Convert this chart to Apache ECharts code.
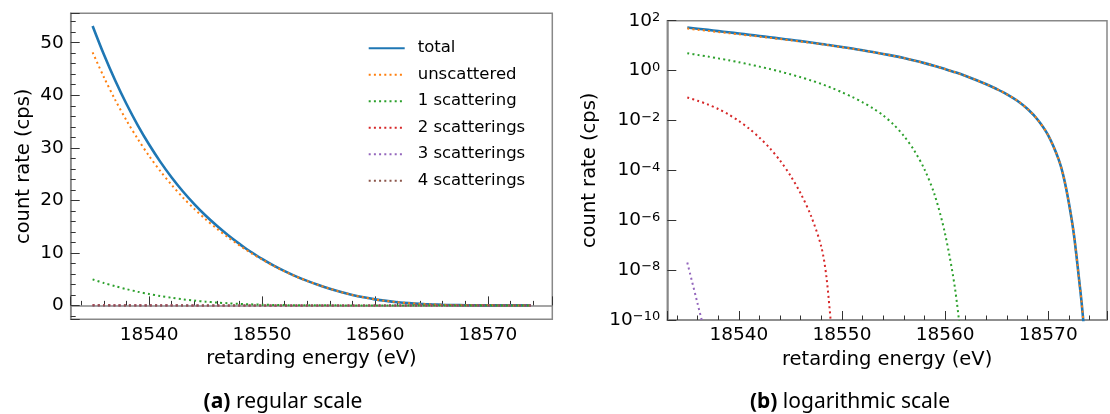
<!DOCTYPE html>
<html><head><meta charset="utf-8">
<script src="https://cdn.jsdelivr.net/npm/echarts@6/dist/echarts.min.js"></script>
<style>html,body{margin:0;padding:0;background:#fff}#c{width:1110px;height:414px}</style>
</head><body><div id="c"></div>
<script>
// ---- data ----
const energy = [18535,18536,18537,18538,18539,18540,18541,18542,18543,18544,
  18545,18546,18547,18548,18548.5,18549,18550,18551,18552,18553,18554,
  18555,18556,18557,18558,18559,18560,18561,18562,18563,18564,
  18565,18566,18567,18568,18569,18570,18571,
  18571.5,18572,18572.5,18573,18573.25,18573.5,18573.8];
const total = [53.2,47.75,42.81,38.33,34.28,30.62,27.32,24.35,21.68,19.28,
  17.10,15.14,13.34,11.70,10.93,10.21,8.85,7.62,6.52,5.53,4.66,
  3.88,3.17,2.535,1.991,1.531,1.148,0.851,0.610,0.422,0.282,
  0.182,0.1122,0.0617,0.0288,0.01047,0.00251,2.82e-4,
  5.37e-5,5.0e-6,2.51e-7,3.98e-9,4.47e-10,3.16e-11,0];
const unscattered = [48.16,43.43,39.12,35.21,31.67,28.45,25.54,22.91,20.52,18.37,
  16.39,14.60,12.94,11.41,10.69,10.01,8.715,7.533,6.466,5.499,4.644,
  3.873,3.168,2.534,1.991,1.531,1.148,0.851,0.610,0.422,0.282,
  0.182,0.1122,0.0617,0.0288,0.01047,0.00251,2.82e-4,
  5.37e-5,5.0e-6,2.51e-7,3.98e-9,4.47e-10,3.16e-11,0];
const scat1 = [4.955,4.266,3.648,3.090,2.594,2.158,1.774,1.442,1.156,0.912,
  0.708,0.540,0.403,0.292,0.2427,0.202,0.135,0.0871,0.0537,0.0309,0.01585,
  0.00692,0.0024,6.31e-4,1.10e-4,1.0e-5,2.82e-7,1.41e-9,3.2e-13,0,0,
  0,0,0,0,0,0,0,
  0,0,0,0,0,0,0];
const scat2 = [0.0832,0.0617,0.0437,0.0288,0.0174,0.00955,0.00468,0.00204,7.76e-4,2.45e-4,
  6.17e-5,1.17e-5,1.48e-6,8.5e-8,5e-9,3.16e-11,0,0,0,0,0,
  0,0,0,0,0,0,0,0,0,0,
  0,0,0,0,0,0,0,
  0,0,0,0,0,0,0];
const scat3 = [2e-8,4.5e-10,1e-11,0,0,0,0,0,0,0,
  0,0,0,0,0,0,0,0,0,0,0,
  0,0,0,0,0,0,0,0,0,0,
  0,0,0,0,0,0,0,
  0,0,0,0,0,0,0];
const scat4 = [0,0,0,0,0,0,0,0,0,0,
  0,0,0,0,0,0,0,0,0,0,0,
  0,0,0,0,0,0,0,0,0,0,
  0,0,0,0,0,0,0,
  0,0,0,0,0,0,0];
const seriesNames = ['total','unscattered','1 scattering','2 scatterings','3 scatterings','4 scatterings'];
const yTicksLinear = [0,10,20,30,40,50];
const xTicks = [18540,18550,18560,18570];

// ---- chart ----
const FONT = 'DejaVu Sans';
const colors = ['#1f77b4','#ff7f0e','#2ca02c','#d62728','#9467bd','#8c564b'];
const values = [total, unscattered, scat1, scat2, scat3, scat4];
const chart = echarts.init(document.getElementById('c'), null, {renderer:'canvas'});

function xAxis(gi){
  return {type:'value', gridIndex:gi, min:18533.06, max:18575.7,
    name:'retarding energy (eV)', nameLocation:'middle', nameGap:28,
    nameTextStyle:{fontSize:19.5, fontFamily:FONT, color:'#000'},
    axisLine:{show:true, lineStyle:{color:'#888', width:1.5}},
    axisTick:{show:true, inside:true, length:9, lineStyle:{color:'#333', width:1}},
    minorTick:{show:true, splitNumber:5, length:4.5, lineStyle:{color:'#333', width:1}},
    axisLabel:{fontSize:18.5, fontFamily:FONT, color:'#000', margin:6,
      formatter: v => xTicks.includes(Math.round(v)) && Math.abs(v-Math.round(v))<1e-6 ? String(Math.round(v)) : ''},
    splitLine:{show:false}};
}
function supLabel(v){
  const e = Math.round(Math.log10(v));
  return '{b|10}{s|' + (e < 0 ? '\u2212' + (-e) : e) + '}';
}

const series = [];
seriesNames.forEach((n,i)=>{
  const ls = {color:colors[i], width: i===0 ? 2.6 : 2, type: i===0 ? 'solid' : [2,3.2], cap:'butt'};
  series.push({name:n, type:'line', xAxisIndex:0, yAxisIndex:0,
    data: energy.map((x,j)=>[x, values[i][j]]),
    symbol:'none', showSymbol:false, smooth:0.3,
    lineStyle:ls, itemStyle:{color:colors[i]}, z:2+i, animation:false, clip:true});
  series.push({name:n, type:'line', xAxisIndex:1, yAxisIndex:1,
    data: energy.map((x,j)=>[x, values[i][j] > 0 ? values[i][j] : null]),
    symbol:'none', showSymbol:false, smooth:0.3,
    lineStyle:ls, itemStyle:{color:colors[i]}, z:2+i, animation:false, clip:true});
});

chart.setOption({
  animation:false,
  backgroundColor:'#fff',
  grid:[
    {left:70.7, top:13.3, width:481.6, height:306, show:true, borderColor:'#888', borderWidth:1.5, containLabel:false},
    {left:667.3, top:20.7, width:451.3, height:299.3, show:true, borderColor:'#888', borderWidth:1.5, containLabel:false}
  ],
  xAxis:[xAxis(0), xAxis(1)],
  yAxis:[
    {type:'value', gridIndex:0, min:-2.65, max:55.6,
      name:'count rate (cps)', nameLocation:'middle', nameGap:37, nameRotate:90,
      nameTextStyle:{fontSize:19.5, fontFamily:FONT, color:'#000'},
      axisLine:{show:true, lineStyle:{color:'#888', width:1.5}},
      axisTick:{show:true, inside:true, length:9, lineStyle:{color:'#333', width:1}},
      minorTick:{show:true, splitNumber:5, length:5, lineStyle:{color:'#333', width:1}},
      axisLabel:{fontSize:18.5, fontFamily:FONT, color:'#000', margin:7,
        formatter: v => (Math.abs(v-Math.round(v))<1e-6 && yTicksLinear.includes(Math.round(v))) ? String(Math.round(v)) : ''},
      splitLine:{show:false}},
    {type:'log', logBase:10, gridIndex:1, min:1e-10, max:100, interval:2,
      name:'count rate (cps)', nameLocation:'middle', nameGap:67, nameRotate:90,
      nameTextStyle:{fontSize:19.5, fontFamily:FONT, color:'#000'},
      axisLine:{show:true, lineStyle:{color:'#888', width:1.5}},
      axisTick:{show:true, inside:true, length:9, lineStyle:{color:'#333', width:1}},
      minorTick:{show:false},
      axisLabel:{margin:7, formatter: supLabel,
        rich:{
          b:{fontSize:18.5, fontFamily:FONT, color:'#000', lineHeight:19, verticalAlign:'bottom', padding:[4,0,0,0]},
          s:{fontSize:13, fontFamily:FONT, color:'#000', lineHeight:13, verticalAlign:'top'}
        }},
      splitLine:{show:false}}
  ],
  legend:{left:367.7, top:39.7, padding:0, orient:'vertical', itemWidth:36, itemHeight:14, itemGap:9.5,
    selectedMode:false, data:seriesNames,
    itemStyle:{color:'rgba(0,0,0,0)', borderColor:'rgba(0,0,0,0)', borderWidth:0},
    textStyle:{fontSize:16.5, fontFamily:FONT, color:'#000', padding:[0,0,0,8]}},
  graphic:[
    {type:'text', x:283, y:401.7, style:{text:'{b|(a)}{r| regular scale}', align:'center', verticalAlign:'middle',
      rich:{b:{fontSize:21, fontFamily:'Noto Sans', fontWeight:'bold', fill:'#000'}, r:{fontSize:21, fontFamily:'Noto Sans', fill:'#000'}}}},
    {type:'text', x:850, y:401.7, style:{text:'{b|(b)}{r| logarithmic scale}', align:'center', verticalAlign:'middle',
      rich:{b:{fontSize:21, fontFamily:'Noto Sans', fontWeight:'bold', fill:'#000'}, r:{fontSize:21, fontFamily:'Noto Sans', fill:'#000'}}}}
  ],
  series: series
});
</script></body></html>
